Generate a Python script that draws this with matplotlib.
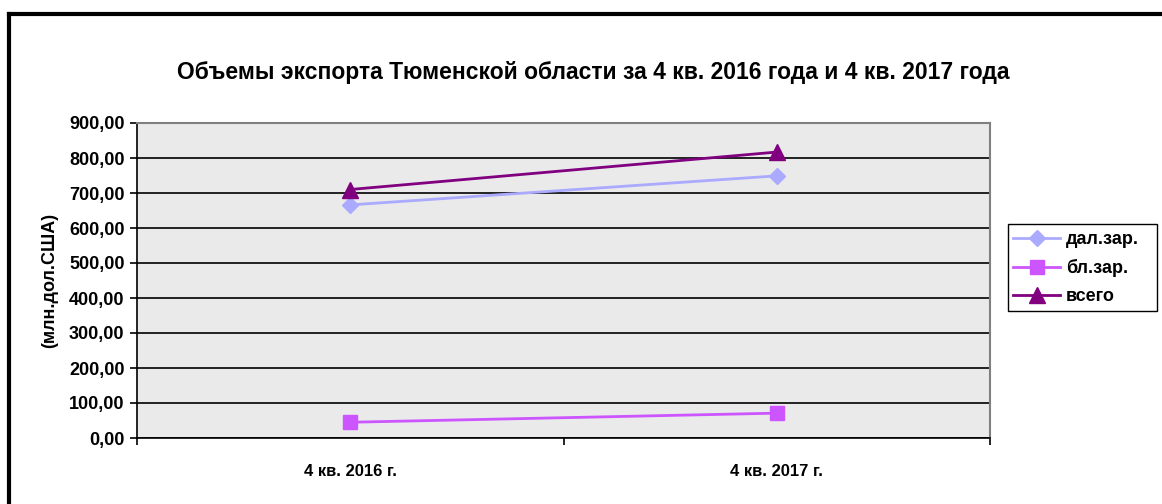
import matplotlib
matplotlib.use("Agg")
import matplotlib.pyplot as plt
from matplotlib.lines import Line2D
from matplotlib.patches import Rectangle
from matplotlib.ticker import FuncFormatter

# ---- data -------------------------------------------------------------
categories = ["4 кв. 2016 г.", "4 кв. 2017 г."]
dal_zar = [666.0, 749.0]     # дал.зар.
bl_zar = [45.0, 71.0]        # бл.зар.
vsego = [710.0, 817.0]       # всего
y_ticks = [0, 100, 200, 300, 400, 500, 600, 700, 800, 900]

title = "Объемы экспорта Тюменской области за 4 кв. 2016 года и 4 кв. 2017 года"
ylabel = "(млн.дол.США)"

plt.rcParams["font.family"] = ["Liberation Sans", "DejaVu Sans"]
plt.rcParams["font.weight"] = "bold"

W, H = 1162, 504
fig = plt.figure(figsize=(W / 100, H / 100), dpi=100)
fig.patch.set_facecolor("white")

ax = fig.add_axes([137 / W, 1 - 438 / H, (990 - 137) / W, (438 - 123) / H])
ax.set_facecolor("#EAEAEA")

x = list(range(len(categories)))
ax.plot(x, dal_zar, color="#AAAAFF", lw=2, marker="D", ms=8,
        label="дал.зар.", zorder=3)
ax.plot(x, bl_zar, color="#CC55FF", lw=2, marker="s", ms=10,
        label="бл.зар.", zorder=3)
ax.plot(x, vsego, color="#800080", lw=2, marker="^", ms=11,
        label="всего", zorder=4)

ax.set_xlim(-0.5, len(categories) - 0.5)
ax.set_ylim(0, 900)
ax.set_yticks(y_ticks)
ax.yaxis.set_major_formatter(FuncFormatter(lambda v, p: f"{v:.2f}".replace(".", ",")))
ax.grid(axis="y", color="black", lw=1.2, zorder=1)
ax.set_axisbelow(True)

# category separators as major ticks, labels on minor ticks
ax.set_xticks([i - 0.5 for i in range(len(categories) + 1)])
ax.set_xticklabels([])
ax.set_xticks(x, minor=True)
ax.set_xticklabels(categories, minor=True)
ax.tick_params(axis="x", which="minor", length=0, pad=19, labelsize=12)
ax.tick_params(axis="x", which="major", direction="out", length=5, width=1.2)
ax.tick_params(axis="y", direction="out", length=5, width=1.2, labelsize=13, pad=4)

for side in ("left", "bottom"):
    ax.spines[side].set_color("black")
    ax.spines[side].set_linewidth(1.2)
for side in ("right", "top"):
    ax.spines[side].set_color("#808080")
    ax.spines[side].set_linewidth(1.5)

ax.set_ylabel(ylabel, fontsize=13, fontweight="bold", labelpad=8)

fig.text(593 / W, 1 - 73 / H, title, ha="center", va="center",
         fontsize=16.5, fontweight="bold")

# legend without its own frame; the box is drawn separately (wider right pad)
leg = fig.legend(loc="upper left", bbox_to_anchor=(1008 / W, 1 - 226 / H),
                 fontsize=13, frameon=False,
                 handlelength=2.6, borderpad=0.3, labelspacing=0.6, handletextpad=0.3,
                 borderaxespad=0)
fig.add_artist(Rectangle((1008 / W, 1 - 311 / H), (1157 - 1008) / W, (311 - 224) / H,
                         transform=fig.transFigure, facecolor="none",
                         edgecolor="black", lw=1.0))

# outer chart frame (only top and left edges visible)
fig.add_artist(Line2D([9 / W, 1], [1 - 14 / H, 1 - 14 / H],
                      transform=fig.transFigure, color="black", lw=3))
fig.add_artist(Line2D([9 / W, 9 / W], [0, 1 - 14 / H],
                      transform=fig.transFigure, color="black", lw=3))

fig.savefig("out.png", dpi=100)
